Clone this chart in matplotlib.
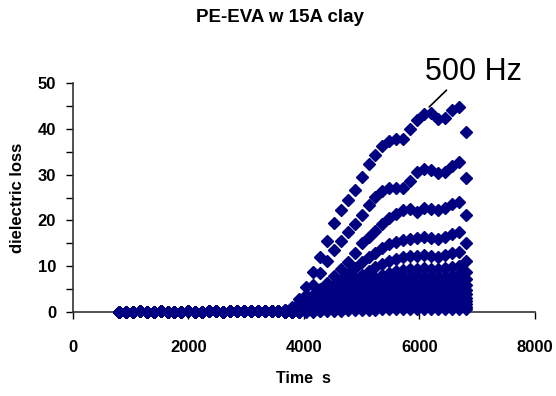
import matplotlib
matplotlib.use("Agg")
import matplotlib.pyplot as plt
from matplotlib.ticker import MultipleLocator

plt.rcParams["font.family"] = ["Liberation Sans", "DejaVu Sans"]

# time axis, s (flat stretch before the rise, then the rise)
time_flat = [800, 920, 1040, 1160, 1280, 1400, 1520, 1640, 1760, 1880, 2000, 2120,
             2240, 2360, 2480, 2600, 2720, 2840, 2960, 3080, 3200, 3320, 3440, 3560]
time_rise = [3680, 3800, 3920, 4040, 4160, 4280, 4400, 4520, 4640, 4760, 4880, 5000,
             5120, 5240, 5360, 5480, 5600, 5720, 5840, 5960, 6080, 6200, 6320, 6440,
             6560, 6680, 6800]

# dielectric loss before the rise (all frequencies sit near zero)
loss_flat = [0.1, 0.1, 0.1, 0.12, 0.1, 0.1, 0.12, 0.1, 0.1, 0.1, 0.12, 0.1,
             0.1, 0.12, 0.12, 0.1, 0.12, 0.12, 0.12, 0.15, 0.15, 0.18, 0.2, 0.25]

# dielectric loss during the rise, one list per frequency (500 Hz first)
loss_500hz = [0.5, 1.2, 2.8, 5.5, 8.8, 12.0, 15.5, 19.5, 22.4, 24.5, 26.6, 29.6, 32.3,
              34.3, 36.2, 37.4, 37.7, 37.9, 39.9, 42.0, 43.2, 43.4, 42.1, 42.4, 44.1, 44.8, 39.4]
loss_f2 = [0.4, 0.9, 2.0, 3.8, 6.0, 8.6, 11.2, 13.5, 15.5, 17.5, 19.3, 21.2, 23.4,
           25.2, 26.5, 27.1, 27.2, 27.0, 28.6, 30.6, 31.3, 31.0, 30.4, 30.5, 31.8, 32.8, 29.2]
loss_f3 = [0.3, 0.6, 1.3, 2.4, 3.7, 5.0, 6.4, 7.9, 9.3, 11.0, 13.0, 15.0, 16.5,
           17.6, 19.3, 20.5, 21.5, 22.3, 22.5, 21.9, 22.8, 22.6, 22.3, 22.8, 23.6, 24.0, 21.2]
loss_f4 = [0.2, 0.5, 1.0, 1.8, 2.8, 3.8, 4.9, 6.0, 7.1, 8.3, 9.6, 10.9, 12.0,
           13.0, 14.0, 14.8, 15.3, 15.8, 16.0, 16.1, 16.5, 16.2, 15.9, 16.3, 17.0, 17.4, 15.0]
loss_f5 = [0.15, 0.4, 0.8, 1.4, 2.1, 2.9, 3.7, 4.6, 5.4, 6.3, 7.2, 8.1, 9.0,
           9.8, 10.5, 11.1, 11.6, 12.0, 12.2, 12.3, 12.5, 12.3, 12.1, 12.4, 12.9, 13.2, 11.2]
loss_f6 = [0.1, 0.3, 0.6, 1.1, 1.6, 2.2, 2.8, 3.5, 4.1, 4.8, 5.5, 6.2, 6.9,
           7.5, 8.0, 8.5, 8.9, 9.2, 9.4, 9.5, 9.6, 9.5, 9.4, 9.6, 9.9, 10.1, 8.7]
loss_f7 = [0.1, 0.25, 0.5, 0.9, 1.3, 1.8, 2.3, 2.9, 3.4, 4.0, 4.6, 5.2, 5.7,
           6.2, 6.6, 7.0, 7.3, 7.6, 7.7, 7.8, 7.9, 7.8, 7.7, 7.9, 8.1, 8.3, 7.2]
loss_f8 = [0.1, 0.2, 0.4, 0.7, 1.0, 1.4, 1.9, 2.3, 2.8, 3.2, 3.7, 4.2, 4.6,
           5.0, 5.4, 5.7, 5.9, 6.1, 6.2, 6.3, 6.4, 6.3, 6.2, 6.4, 6.6, 6.7, 5.8]
loss_f9 = [0.1, 0.15, 0.3, 0.6, 0.8, 1.1, 1.5, 1.9, 2.3, 2.6, 3.0, 3.4, 3.8,
           4.1, 4.4, 4.6, 4.8, 5.0, 5.1, 5.1, 5.2, 5.1, 5.1, 5.2, 5.4, 5.5, 4.8]
loss_f10 = [0.05, 0.1, 0.25, 0.45, 0.65, 0.9, 1.2, 1.5, 1.8, 2.1, 2.4, 2.7, 3.0,
            3.3, 3.5, 3.7, 3.9, 4.0, 4.1, 4.1, 4.2, 4.1, 4.1, 4.2, 4.3, 4.4, 3.9]
loss_f11 = [0.05, 0.1, 0.2, 0.35, 0.5, 0.7, 0.95, 1.2, 1.4, 1.7, 1.9, 2.2, 2.4,
            2.6, 2.8, 2.9, 3.1, 3.2, 3.2, 3.3, 3.3, 3.3, 3.2, 3.3, 3.4, 3.5, 3.1]
loss_f12 = [0.05, 0.1, 0.15, 0.3, 0.4, 0.55, 0.7, 0.9, 1.1, 1.3, 1.5, 1.7, 1.8,
            2.0, 2.1, 2.2, 2.3, 2.4, 2.5, 2.5, 2.5, 2.5, 2.5, 2.5, 2.6, 2.7, 2.4]
loss_f13 = [0.05, 0.05, 0.1, 0.2, 0.3, 0.4, 0.5, 0.65, 0.8, 0.95, 1.1, 1.2, 1.3,
            1.45, 1.55, 1.6, 1.7, 1.75, 1.8, 1.8, 1.85, 1.8, 1.8, 1.85, 1.9, 1.95, 1.7]
loss_f14 = [0.05, 0.05, 0.1, 0.15, 0.2, 0.25, 0.35, 0.45, 0.55, 0.65, 0.75, 0.8, 0.9,
            1.0, 1.05, 1.1, 1.15, 1.2, 1.2, 1.25, 1.25, 1.25, 1.2, 1.25, 1.3, 1.35, 1.2]
loss_f15 = [0.0, 0.05, 0.05, 0.1, 0.1, 0.15, 0.2, 0.25, 0.3, 0.35, 0.4, 0.45, 0.5,
            0.55, 0.6, 0.6, 0.65, 0.65, 0.7, 0.7, 0.7, 0.7, 0.7, 0.7, 0.7, 0.75, 0.65]

series = [loss_500hz, loss_f2, loss_f3, loss_f4, loss_f5, loss_f6, loss_f7, loss_f8,
          loss_f9, loss_f10, loss_f11, loss_f12, loss_f13, loss_f14, loss_f15]

navy = "#000080"

fig = plt.figure(figsize=(5.56, 3.96), dpi=100)
ax = fig.add_axes([0.131, 0.212, 0.831, 0.578])

for s in series:
    ax.plot(time_flat + time_rise, loss_flat + s, "D", ms=6, color=navy,
            mec=navy, clip_on=False, zorder=3)

ax.set_xlim(0, 8000)
ax.set_ylim(0, 50)
ax.xaxis.set_major_locator(MultipleLocator(2000))
ax.yaxis.set_major_locator(MultipleLocator(10))
ax.yaxis.set_minor_locator(MultipleLocator(5))

for side in ("top", "right"):
    ax.spines[side].set_visible(False)
for side in ("left", "bottom"):
    ax.spines[side].set_color("#333333")
    ax.spines[side].set_linewidth(1.2)

ax.tick_params(axis="x", which="major", direction="out", length=5, width=1,
               pad=15, labelsize=12)
ax.tick_params(axis="y", which="both", direction="out", length=5, width=1,
               pad=7, labelsize=12)
for lab in ax.get_xticklabels() + ax.get_yticklabels():
    lab.set_fontweight("bold")

ax.set_xlabel("Time  s", fontsize=11.5, fontweight="bold", labelpad=12)
ax.set_ylabel("dielectric loss", fontsize=12, fontweight="bold", labelpad=9)

fig.text(0.504, 0.955, "PE-EVA w 15A clay", ha="center", va="center",
         fontsize=13.5, fontweight="bold")

ax.annotate("500 Hz", xy=(6170, 44.8), xytext=(6100, 50.6),
            fontsize=22, ha="left", va="baseline", annotation_clip=False,
            arrowprops=dict(arrowstyle="-", color="black", lw=1.2,
                            shrinkA=0, shrinkB=0,
                            relpos=(0.25, 0.0)))

fig.savefig("out.png", dpi=100)
